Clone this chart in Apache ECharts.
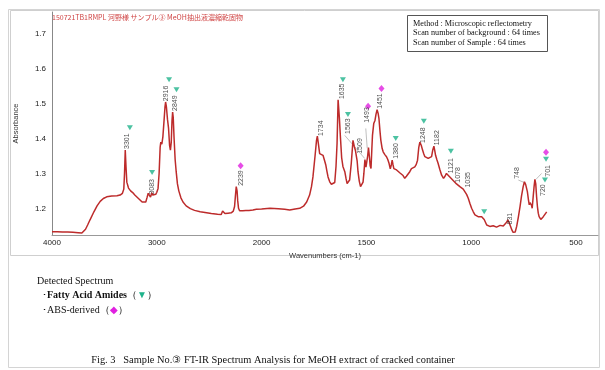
<!DOCTYPE html>
<html><head><meta charset="utf-8">
<script src="https://cdn.jsdelivr.net/npm/echarts@6/dist/echarts.min.js"></script>
<style>html,body{margin:0;padding:0;background:#fff}#c{width:605px;height:370px}</style>
</head><body><div id="c"></div>
<script>
// ---- data (wavenumber cm-1, absorbance) ----
const spectrum = [
[4000,1.133],[3950,1.133],[3900,1.132],[3850,1.132],[3800,1.131],[3750,1.130],[3715,1.129],[3700,1.131],[3680,1.140],[3660,1.152],[3637,1.167],[3600,1.190],[3570,1.207],[3540,1.220],[3510,1.228],[3478,1.233],[3430,1.235],[3380,1.236],[3350,1.238],[3328,1.243],[3315,1.255],[3308,1.30],[3301,1.367],[3294,1.32],[3286,1.275],[3270,1.258],[3250,1.250],[3230,1.245],[3210,1.238],[3191,1.233],[3160,1.224],[3140,1.218],[3121,1.213],[3105,1.218],[3092,1.232],[3082,1.243],[3070,1.238],[3060,1.232],[3048,1.244],[3038,1.238],[3025,1.233],[3010,1.240],[3000,1.246],[2988,1.257],[2978,1.30],[2968,1.375],[2962,1.390],[2952,1.384],[2942,1.405],[2930,1.455],[2922,1.49],[2916,1.505],[2908,1.49],[2898,1.455],[2888,1.43],[2878,1.38],[2870,1.367],[2862,1.39],[2855,1.45],[2849,1.476],[2843,1.46],[2835,1.40],[2825,1.34],[2815,1.305],[2803,1.27],[2790,1.25],[2770,1.23],[2750,1.218],[2720,1.207],[2680,1.199],[2640,1.194],[2586,1.190],[2540,1.188],[2480,1.185],[2420,1.183],[2385,1.182],[2372,1.192],[2364,1.188],[2350,1.185],[2320,1.186],[2290,1.187],[2270,1.192],[2258,1.205],[2250,1.235],[2242,1.262],[2239,1.266],[2234,1.25],[2228,1.222],[2220,1.200],[2210,1.193],[2180,1.193],[2150,1.194],[2120,1.194],[2083,1.195],[2050,1.197],[2000,1.198],
[1960,1.200],[1920,1.199],[1890,1.197],[1866,1.195],[1840,1.198],[1818,1.200],[1800,1.206],[1785,1.218],[1771,1.238],[1762,1.262],[1755,1.290],[1745,1.350],[1738,1.395],[1734,1.407],[1729,1.385],[1723,1.357],[1715,1.352],[1707,1.352],[1700,1.338],[1694,1.325],[1688,1.305],[1683,1.290],[1675,1.276],[1667,1.269],[1658,1.268],[1651,1.274],[1645,1.32],[1640,1.386],[1635,1.511],[1629,1.46],[1624,1.405],[1618,1.345],[1612,1.320],[1603,1.305],[1597,1.285],[1592,1.271],[1585,1.272],[1580,1.281],[1572,1.33],[1564,1.395],[1558,1.378],[1552,1.365],[1548,1.362],[1544,1.335],[1540,1.305],[1534,1.278],[1528,1.262],[1521,1.257],[1516,1.275],[1512,1.300],[1507,1.340],[1502,1.318],[1498,1.316],[1494,1.350],[1490,1.374],[1486,1.350],[1482,1.322],[1478,1.314],[1474,1.370],[1471,1.409],[1465,1.443],[1459,1.452],[1454,1.470],[1449,1.483],[1444,1.472],[1440,1.457],[1435,1.42],[1431,1.395],[1425,1.372],[1420,1.362],[1412,1.354],[1404,1.348],[1398,1.340],[1392,1.329],[1386,1.313],[1381,1.325],[1377,1.338],[1373,1.325],[1369,1.314],[1362,1.315],[1356,1.310],[1348,1.308],[1341,1.302],[1333,1.300],[1325,1.294],[1317,1.286],[1309,1.292],[1301,1.295],[1293,1.305],[1285,1.314],[1277,1.316],[1269,1.319],[1262,1.326],[1256,1.338],[1250,1.375],[1245,1.390],[1238,1.380],[1232,1.367],[1226,1.356],[1221,1.348],[1213,1.344],[1205,1.343],[1197,1.346],[1189,1.348],[1183,1.368],[1178,1.378],[1174,1.366],[1170,1.352],[1164,1.340],[1158,1.329],[1150,1.312],[1141,1.295],[1132,1.286],[1125,1.292],[1118,1.300],[1110,1.296],[1102,1.290],[1094,1.286],[1086,1.280],[1078,1.276],[1070,1.270],[1062,1.267],[1054,1.262],[1046,1.257],[1038,1.255],[1030,1.252],[1022,1.240],[1014,1.229],[1006,1.214],[998,1.200],[990,1.190],[982,1.181],[975,1.178],[967,1.176],[958,1.178],[950,1.176],[944,1.172],[938,1.168],[932,1.160],[926,1.152],[918,1.149],[911,1.148],[903,1.151],[895,1.150],[887,1.148],[879,1.146],[870,1.149],[862,1.151],[855,1.152],[847,1.149],[839,1.150],[831,1.160],[825,1.167],[819,1.162],[812,1.148],[806,1.138],[800,1.131],[795,1.127],[790,1.132],[783,1.148],[775,1.175],[767,1.205],[760,1.235],[752,1.262],[746,1.276],[740,1.268],[732,1.248],[727,1.225],[723,1.210],[719,1.216],[716,1.219],[712,1.208],[709,1.200],[704,1.235],[700,1.262],[696,1.283],[692,1.270],[688,1.233],[684,1.205],[680,1.186],[676,1.176],[672,1.171],[668,1.168],[664,1.167],[660,1.172],[656,1.176],[652,1.178],[648,1.181],[644,1.186],[640,1.190]
];
const xTickWn = [4000,3000,2000,1500,1000,500];
const yTicks = [1.2,1.3,1.4,1.5,1.6,1.7];
// fatty acid amide markers (▼) and ABS-derived markers (◆): [wavenumber, absorbance]
const amideMarks = [[3257,1.431],[3045,1.303],[2883,1.569],[2812,1.540],[1612,1.569],[1588,1.469],[1360,1.400],[1226,1.450],[1097,1.364],[938,1.190],[648,1.281],[643,1.341]];
const absMarks = [[2200,1.322],[1492,1.493],[1428,1.544],[643,1.361]];
// peak labels and where they sit (top of the vertical text)
const peakText = ['3301','3083','2916','2849','2239','1734','1635','1563','1509','1493','1451','1380','1248','1182','1121','1078','1035','831','748','720','701'];
const peakTextAt = [[3281,1.415],[3048,1.284],[2914,1.552],[2829,1.524],[2200,1.309],[1715,1.452],[1618,1.558],[1588,1.458],[1532,1.401],[1497,1.490],[1433,1.530],[1360,1.387],[1228,1.432],[1165,1.424],[1094,1.344],[1062,1.318],[1014,1.304],[815,1.187],[783,1.318],[656,1.269],[632,1.324]];
const leaders = [[[1603,1.409],[1508,1.343]],[[1503,1.429],[1496,1.372]],[[775,1.281],[743,1.273]],[[664,1.300],[691,1.283]]];

// FT-IR axis: scale below 2000 cm-1 is twice the scale above it
function toU(wn){ return wn > 2000 ? 2000 + (wn - 2000) / 2 : wn; }
function toWn(u){ return u > 2000 ? 2000 + (u - 2000) * 2 : u; }

const chart = echarts.init(document.getElementById('c'), null, {renderer:'canvas'});
const sans = 'Liberation Sans';
const serif = 'Liberation Serif';
chart.setOption({
  animation:false,
  backgroundColor:'#fff',
  grid:{left:52, right:7, top:12, bottom:135},
  xAxis:{
    type:'value', inverse:true, min:395, max:3000,
    name:'Wavenumbers (cm-1)', nameLocation:'middle', nameGap:13,
    nameTextStyle:{fontFamily:sans, fontSize:7.5, color:'#333'},
    axisLine:{show:true, lineStyle:{color:'#999', width:1}},
    axisTick:{show:false},
    splitLine:{show:false},
    axisLabel:{customValues:xTickWn.map(toU), formatter:v=>String(Math.round(toWn(v))), fontFamily:sans, fontSize:8, color:'#222', margin:4}
  },
  yAxis:{
    type:'value', min:1.1234, max:1.7631,
    name:'Absorbance', nameLocation:'middle', nameGap:32, nameRotate:90,
    nameTextStyle:{fontFamily:sans, fontSize:7.5, color:'#333'},
    axisLine:{show:true, lineStyle:{color:'#888', width:1}},
    axisTick:{show:false},
    splitLine:{show:false},
    axisLabel:{customValues:yTicks, formatter:v=>v.toFixed(1), fontFamily:sans, fontSize:8, color:'#222', margin:6}
  },
  series:[
    {type:'line', data:spectrum.map(d=>[toU(d[0]), d[1]]), showSymbol:false, symbol:'none',
     lineStyle:{color:'#bd2b2b', width:1.5}, z:3, silent:true},
    {type:'lines', coordinateSystem:'cartesian2d', silent:true, z:2,
     data:leaders.map(l=>({coords:[[toU(l[0][0]), l[0][1]],[toU(l[1][0]), l[1][1]]]})),
     lineStyle:{color:'#b0b0b0', width:0.8, opacity:1}},
    {type:'scatter', data:amideMarks.map(d=>[toU(d[0]), d[1]]), symbol:'triangle', symbolRotate:180,
     symbolSize:[6,5], itemStyle:{color:'#1fb38b'}, z:4, silent:true},
    {type:'scatter', data:absMarks.map(d=>[toU(d[0]), d[1]]), symbol:'diamond',
     symbolSize:[6,7], itemStyle:{color:'#e020e0'}, z:4, silent:true},
    {type:'scatter', data:peakTextAt.map((d,i)=>({value:[toU(d[0]), d[1]], name:peakText[i]})),
     symbol:'circle', symbolSize:2, itemStyle:{color:'rgba(0,0,0,0)'}, z:5, silent:true,
     label:{show:true, position:[1,1], formatter:'{b}', rotate:90, align:'right', verticalAlign:'middle',
            fontFamily:sans, fontSize:7, color:'#222'}}
  ],
  graphic:[
    {type:'rect', shape:{x:8.5, y:9.5, width:591, height:358}, style:{fill:'none', stroke:'#d4d4d4', lineWidth:1}, z:-1},
    {type:'rect', shape:{x:10.5, y:10.5, width:588, height:245}, style:{fill:'none', stroke:'#cfcfcf', lineWidth:1}, z:-1},
    {type:'text', x:52, y:17, style:{text:'150721TB1RMPL 河野様 サンプル③ MeOH抽出液濃縮乾固物', fill:'#d04545', font:'7px "Noto Sans CJK JP"', verticalAlign:'middle'}},
    {type:'rect', shape:{x:407.5, y:15.5, width:140, height:36}, style:{fill:'#fff', stroke:'#555', lineWidth:1}, z:10},
    {type:'text', x:413, y:23.5, z:11, style:{text:'Method : Microscopic reflectometry', fill:'#111', font:'8.2px "Liberation Serif"', verticalAlign:'middle'}},
    {type:'text', x:413, y:33, z:11, style:{text:'Scan number of background : 64 times', fill:'#111', font:'8.2px "Liberation Serif"', verticalAlign:'middle'}},
    {type:'text', x:413, y:42.5, z:11, style:{text:'Scan number of Sample : 64 times', fill:'#111', font:'8.2px "Liberation Serif"', verticalAlign:'middle'}},
    {type:'text', x:37, y:281, style:{text:'Detected Spectrum', fill:'#111', font:'10px "Liberation Serif"', verticalAlign:'middle'}},
    {type:'text', x:42, y:295, style:{text:'･{b|Fatty Acid Amides}（{g|▼}）', fill:'#111', font:'10px "Liberation Serif"', verticalAlign:'middle',
       rich:{b:{fontFamily:serif, fontSize:10, fontWeight:'bold', fill:'#111'}, g:{fill:'#1fb38b', fontSize:10}}}},
    {type:'text', x:42, y:310, style:{text:'･ABS-derived（{m|◆}）', fill:'#111', font:'10px "Liberation Serif"', verticalAlign:'middle',
       rich:{m:{fill:'#e020e0', fontSize:10}}}},
    {type:'text', x:273, y:360, style:{text:'Fig. 3   Sample No.③ FT-IR Spectrum Analysis for MeOH extract of cracked container', fill:'#111', font:'10.4px "Liberation Serif"', align:'center', verticalAlign:'middle'}}
  ]
});
</script></body></html>
